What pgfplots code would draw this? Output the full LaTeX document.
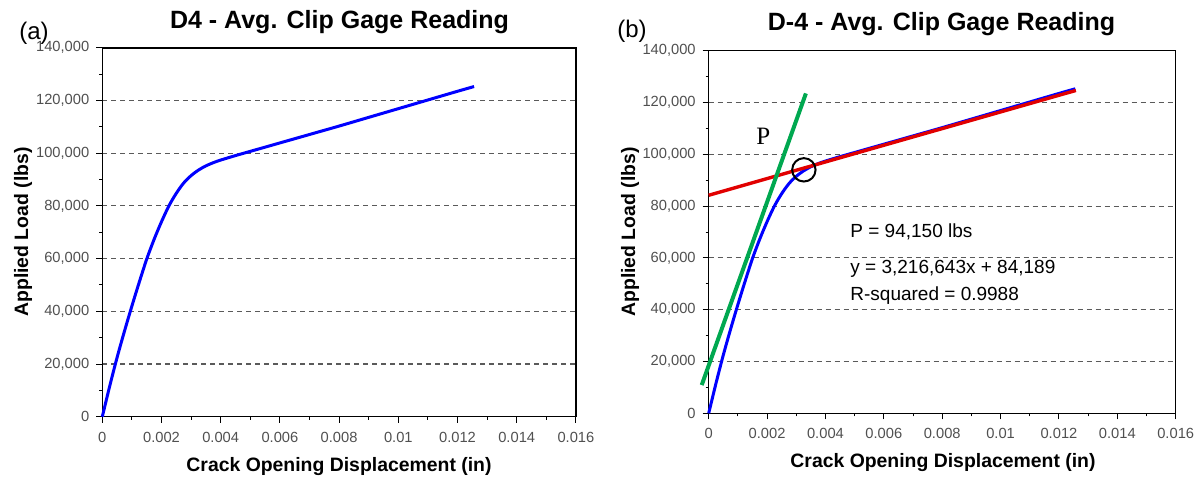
\documentclass[border=0pt]{standalone}
\usepackage{fontspec}
\setmainfont{Liberation Sans}
\newfontfamily\seriffont{Liberation Serif}
\usepackage{pgfplots}
\pgfplotsset{compat=1.18}
\definecolor{cblue}{RGB}{0,0,255}
\definecolor{cred}{RGB}{225,0,0}
\definecolor{cgreen}{RGB}{0,168,80}
\definecolor{tickgray}{RGB}{80,80,80}
\definecolor{gridgray}{RGB}{90,90,90}

\pgfplotsset{
  mystyle/.style={
    scale only axis,
    clip=false,
    xmin=0, xmax=0.016, ymin=0, ymax=140000,
    xtick={0,0.002,0.004,0.006,0.008,0.01,0.012,0.014,0.016},
    xticklabels={0,0.002,0.004,0.006,0.008,0.01,0.012,0.014,0.016},
    ytick={0,20000,40000,60000,80000,100000,120000,140000},
    yticklabels={0,{20,000},{40,000},{60,000},{80,000},{100,000},{120,000},{140,000}},
    scaled x ticks=false, scaled y ticks=false,
    minor x tick num=1, minor y tick num=1,
    tick pos=left, tick align=outside,
    major tick length=3pt, minor tick length=1.5pt,
    every tick/.style={black, line width=0.5pt},
    axis line style={black, line width=0.7pt},
    ymajorgrids,
    major grid style={gridgray, line width=0.55pt, dash pattern=on 2.5pt off 2pt},
    tick label style={font=\fontsize{7.35}{8}\selectfont, text=tickgray},
    xticklabel style={yshift=-1pt},
  },
}

\pgfplotstableread{
x y
0 0
0.00025 11600
0.0005 22500
0.00075 32500
0.001 42000
0.00125 51100
0.0015 59800
0.00175 67300
0.002 74000
0.00225 80000
0.0025 84800
0.00275 88700
0.003 91500
0.00325 93600
0.0035 95200
0.00375 96400
0.004 97400
0.0045 99100
0.005 100700
0.006 103900
0.007 107100
0.008 110300
0.009 113600
0.010 116900
0.011 120200
0.012 123500
0.01256 125300
}\curve

\begin{document}
\begin{tikzpicture}
\useasboundingbox (0,0) rectangle (601pt,238.5pt);

% ---------------- (a)
\begin{axis}[mystyle, at={(51.15pt,30.15pt)}, anchor=south west,
  width=236.8pt, height=184.45pt]
\addplot[cblue, line width=1.5pt, smooth, tension=0.5] table[x=x,y=y] {\curve};
\end{axis}

% ---------------- (b)
\begin{axis}[mystyle, at={(354.35pt,31.85pt)}, anchor=south west,
  width=233.5pt, height=181.3pt]
\addplot[cblue, line width=1.5pt, smooth, tension=0.5] table[x=x,y=y] {\curve};
\addplot[cred, line width=1.7pt] coordinates {(0,84189) (0.01258,124655)};
\addplot[cgreen, line width=2pt] coordinates {(-0.00024,10900) (0.00333,123500)};
\addplot[only marks, mark=o, mark size=5.85pt, mark options={black, line width=1pt}] coordinates {(0.00326,94000)};
\end{axis}

% ---------------- texts
\node[anchor=base, font=\bfseries\fontsize{12.5}{14}\selectfont] at (169.75pt,224pt) {D4 - Avg. Clip Gage Reading};
\node[anchor=base, font=\bfseries\fontsize{12.5}{14}\selectfont] at (470.75pt,223pt) {D-4 - Avg. Clip Gage Reading};
\node[anchor=base west, inner sep=0pt, font=\fontsize{12}{14}\selectfont] at (9.5pt,218.5pt) {(a)};
\node[anchor=base west, inner sep=0pt, font=\fontsize{12}{14}\selectfont] at (308.5pt,219.5pt) {(b)};

\node[anchor=base, inner sep=0pt, font=\bfseries\fontsize{9.7}{11}\selectfont] at (169.5pt,3pt) {Crack Opening Displacement (in)};
\node[anchor=base, inner sep=0pt, font=\bfseries\fontsize{9.7}{11}\selectfont] at (471.5pt,5pt) {Crack Opening Displacement (in)};
\node[anchor=base, rotate=90, inner sep=0pt, font=\bfseries\fontsize{9.7}{11}\selectfont] at (14pt,122.5pt) {Applied Load (lbs)};
\node[anchor=base, rotate=90, inner sep=0pt, font=\bfseries\fontsize{9.7}{11}\selectfont] at (317.5pt,122.5pt) {Applied Load (lbs)};

\node[anchor=base west, inner sep=0pt, font=\fontsize{9.5}{11}\selectfont] at (425pt,120pt) {P = 94,150 lbs};
\node[anchor=base west, inner sep=0pt, font=\fontsize{9.5}{11}\selectfont] at (425pt,102pt) {y = 3,216,643x + 84,189};
\node[anchor=base west, inner sep=0pt, font=\fontsize{9.5}{11}\selectfont] at (425pt,88.5pt) {R-squared = 0.9988};
\node[anchor=base west, inner sep=0pt, font=\seriffont\fontsize{12.5}{14}\selectfont] at (378pt,166pt) {P};
\end{tikzpicture}
\end{document}
